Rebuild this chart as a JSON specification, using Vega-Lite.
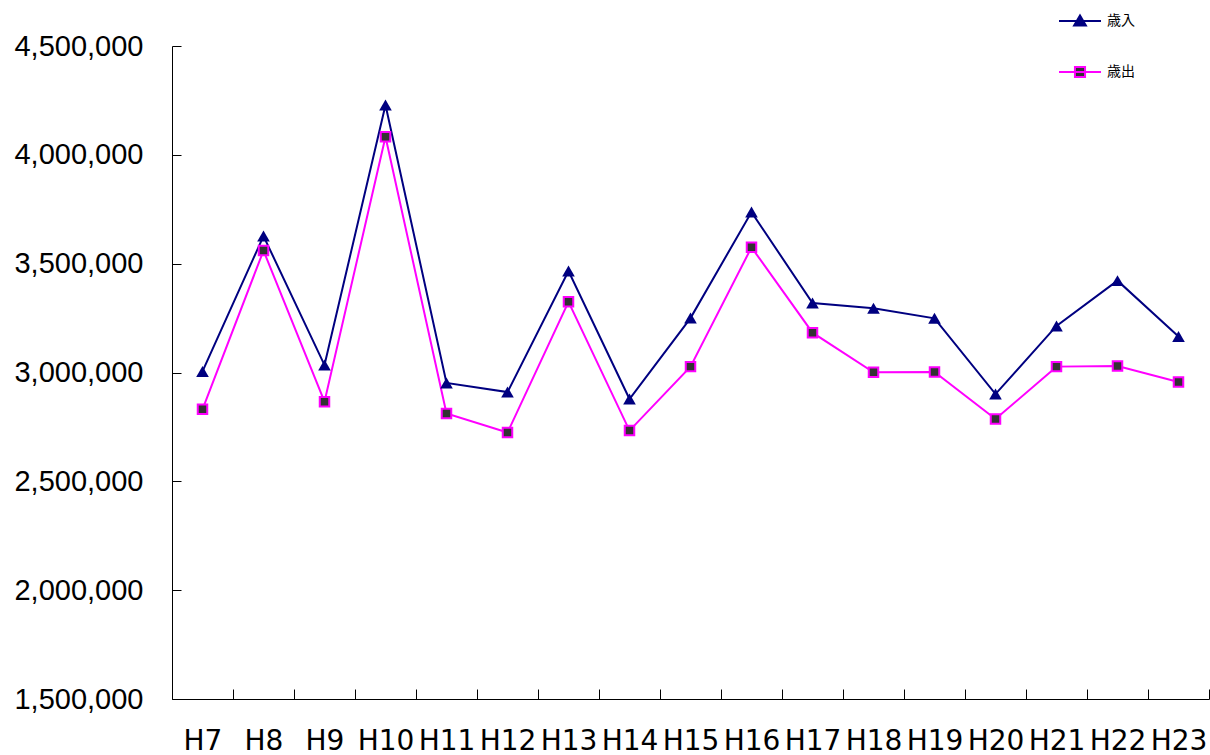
{
  "$schema": "https://vega.github.io/schema/vega-lite/v6.json",
  "width": 1037,
  "height": 653,
  "autosize": {"type": "none"},
  "padding": {"left": 172, "top": 46, "right": 1, "bottom": 56},
  "background": "white",
  "config": {"view": {"stroke": null}, "axis": {"grid": false}},
  "data": {
    "values": [
      {"year": "H7", "series": "歳入", "value": 3005000},
      {"year": "H8", "series": "歳入", "value": 3627000},
      {"year": "H9", "series": "歳入", "value": 3034000},
      {"year": "H10", "series": "歳入", "value": 4229000},
      {"year": "H11", "series": "歳入", "value": 2952000},
      {"year": "H12", "series": "歳入", "value": 2910000},
      {"year": "H13", "series": "歳入", "value": 3466000},
      {"year": "H14", "series": "歳入", "value": 2878000},
      {"year": "H15", "series": "歳入", "value": 3250000},
      {"year": "H16", "series": "歳入", "value": 3737000},
      {"year": "H17", "series": "歳入", "value": 3319000},
      {"year": "H18", "series": "歳入", "value": 3295000},
      {"year": "H19", "series": "歳入", "value": 3249000},
      {"year": "H20", "series": "歳入", "value": 2901000},
      {"year": "H21", "series": "歳入", "value": 3214000},
      {"year": "H22", "series": "歳入", "value": 3422000},
      {"year": "H23", "series": "歳入", "value": 3165000},
      {"year": "H7", "series": "歳出", "value": 2831000},
      {"year": "H8", "series": "歳出", "value": 3560000},
      {"year": "H9", "series": "歳出", "value": 2866000},
      {"year": "H10", "series": "歳出", "value": 4083000},
      {"year": "H11", "series": "歳出", "value": 2812000},
      {"year": "H12", "series": "歳出", "value": 2724000},
      {"year": "H13", "series": "歳出", "value": 3325000},
      {"year": "H14", "series": "歳出", "value": 2733000},
      {"year": "H15", "series": "歳出", "value": 3027000},
      {"year": "H16", "series": "歳出", "value": 3575000},
      {"year": "H17", "series": "歳出", "value": 3183000},
      {"year": "H18", "series": "歳出", "value": 3001000},
      {"year": "H19", "series": "歳出", "value": 3002000},
      {"year": "H20", "series": "歳出", "value": 2786000},
      {"year": "H21", "series": "歳出", "value": 3027000},
      {"year": "H22", "series": "歳出", "value": 3030000},
      {"year": "H23", "series": "歳出", "value": 2956000}
    ]
  },
  "encoding": {
    "x": {
      "field": "year",
      "type": "ordinal",
      "sort": null,
      "scale": {"type": "band", "paddingInner": 0, "paddingOuter": 0, "domain": ["H7","H8","H9","H10","H11","H12","H13","H14","H15","H16","H17","H18","H19","H20","H21","H22","H23"]},
      "axis": {
        "title": null,
        "labelAngle": 0,
        "tickBand": "extent",
        "tickSize": -10,
        "tickColor": "black",
        "domainColor": "black",
        "labelFont": "DejaVu Sans",
        "labelFontSize": 28,
        "labelColor": "black",
        "labelPadding": 38
      }
    },
    "y": {
      "field": "value",
      "type": "quantitative",
      "scale": {"domain": [1500000, 4500000], "nice": false, "zero": false},
      "axis": {
        "title": null,
        "values": [1500000, 2000000, 2500000, 3000000, 3500000, 4000000, 4500000],
        "format": ",d",
        "tickSize": -9,
        "tickColor": "black",
        "domainColor": "black",
        "labelFont": "Liberation Sans",
        "labelFontSize": 29,
        "labelColor": "black",
        "labelPadding": 38
      }
    }
  },
  "layer": [
    {
      "mark": {"type": "line", "strokeWidth": 2},
      "encoding": {
        "color": {
          "field": "series",
          "type": "nominal",
          "scale": {"domain": ["歳入", "歳出"], "range": ["#000080", "#ff00ff"]},
          "legend": {
            "title": null,
            "orient": "none",
            "legendX": 886,
            "legendY": -47,
            "padding": 0,
            "symbolSize": 1764,
            "symbolStrokeWidth": 2,
            "rowPadding": 20,
            "labelOffset": 5,
            "labelFont": "Noto Sans CJK JP",
            "labelFontSize": 14,
            "labelColor": "black",
            "encode": {
              "symbols": {
                "update": {
                  "shape": [
                    {"test": "datum.value === '歳入'", "value": "M-1,0H1M0,-0.26L0.28,0.22L-0.28,0.22Z"},
                    {"value": "M-1,0H1M-0.24,-0.24H0.24V0.24H-0.24Z"}
                  ],
                  "fill": [
                    {"test": "datum.value === '歳入'", "value": "#000080"},
                    {"value": "#333333"}
                  ]
                }
              }
            }
          }
        }
      }
    },
    {
      "transform": [{"filter": "datum.series === '歳入'"}],
      "mark": {"type": "point", "shape": "triangle-up", "filled": true, "color": "#000080", "size": 160, "opacity": 1}
    },
    {
      "transform": [{"filter": "datum.series === '歳出'"}],
      "mark": {"type": "point", "shape": "square", "filled": true, "fill": "#333333", "stroke": "#ff00ff", "strokeWidth": 2, "size": 90, "opacity": 1}
    }
  ]
}
